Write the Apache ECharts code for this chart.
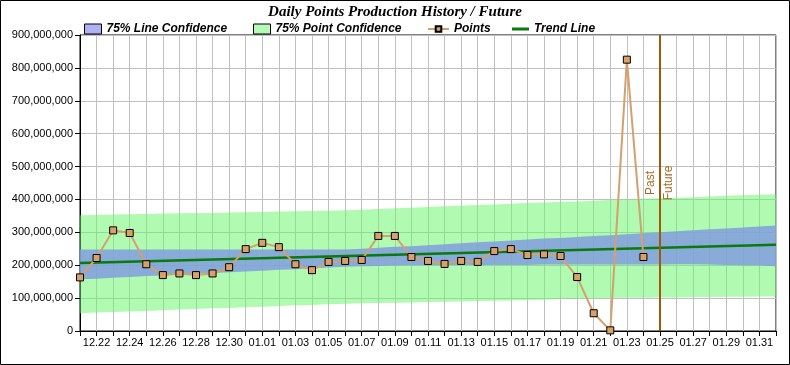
<!DOCTYPE html>
<html>
<head>
<meta charset="utf-8">
<script src="https://cdn.jsdelivr.net/npm/echarts@6/dist/echarts.min.js"></script>
<style>
html,body{margin:0;padding:0;background:#fff;}
#chart{width:790px;height:365px;}
</style>
</head>
<body>
<div id="chart"></div>
<script>
// ---- data (values in millions) ----
const categories = ['12.21','12.22','12.23','12.24','12.25','12.26','12.27','12.28','12.29','12.30','12.31',
  '01.01','01.02','01.03','01.04','01.05','01.06','01.07','01.08','01.09','01.10','01.11','01.12','01.13','01.14','01.15','01.16',
  '01.17','01.18','01.19','01.20','01.21','01.22','01.23','01.24','01.25','01.26','01.27','01.28','01.29','01.30','01.31','02.01'];
const points = [163,222,306,298,203,170,175,170,175,194,249,
  268,255,203,185,210,213,216,289,289,225,213,204,213,210,243,249,231,233,228,164,54,2,825,225];
const trendStart = 207, trendEnd = 262;
const lineConfUpper = [248,248,248,248,248,248,248,248,248,248,248,248,248,248,248,248,248,
  250,253,256,258,261,264,267,270,272,275,278,281,283,286,289,291,294,297,300,303,306,309,312,315,318,321];
const lineConfLower = [157,159,162,164,167,169,171,174,176,179,181,183,186,188,191,193,195,
  197,198,199,200,200,201,201,201,201,201,201,202,202,202,202,202,202,202,202,203,203,202,201,200,199,197];
const pointConfUpper = [352,353,354,355,356,357,358,359,359,360,361,362,363,364,365,366,367,
  369,371,373,375,377,379,381,383,385,387,389,391,393,394,396,398,400,402,404,405,407,409,411,413,414,416];
const pointConfLower = [54,56,58,59,61,63,65,67,69,70,72,74,76,78,79,81,83,
  84,85,86,87,88,89,90,91,92,93,94,95,97,98,99,100,101,101,102,102,103,103,104,104,105,105];
const yTicks = {min:0, max:900, interval:100};
const boundaryLabel = '01.25';

const M = 1e6;
const toM = a => a.map(v => v * M);
const diff = (u, l) => u.map((v, i) => (v - l[i]) * M);

const chart = echarts.init(document.getElementById('chart'), null, {renderer:'canvas'});
const legendText = {fontFamily:'Liberation Sans', fontStyle:'italic', fontWeight:'bold', fontSize:12, color:'#000'};
const invisibleLine = {opacity:0};

chart.setOption({
  animation:false,
  backgroundColor:'#fff',
  title:{text:'Daily Points Production History / Future', left:'center', top:0,
    textStyle:{fontFamily:'Liberation Serif', fontStyle:'italic', fontWeight:'bold', fontSize:15, color:'#000'}},
  legend:[
    {left:84, top:23, padding:0, itemWidth:17, itemHeight:10, textStyle:legendText,
     data:[{name:'75% Line Confidence', icon:'rect', itemStyle:{color:'#b0b0f4', borderColor:'#000', borderWidth:1}}]},
    {left:253, top:23, padding:0, itemWidth:17, itemHeight:10, textStyle:legendText,
     data:[{name:'75% Point Confidence', icon:'rect', itemStyle:{color:'#b4fab4', borderColor:'#000', borderWidth:1}}]},
    {left:427, top:23, padding:0, itemWidth:21, itemHeight:7, textStyle:legendText, data:['Points']},
    {left:512, top:23, padding:0, itemWidth:17, itemHeight:3, textStyle:legendText,
     data:[{name:'Trend Line', icon:'rect', itemStyle:{color:'#0a7a0a'}}]}
  ],
  grid:{left:80, right:14, top:35, bottom:34, show:true, borderColor:'#000', borderWidth:1, backgroundColor:'transparent'},
  xAxis:{type:'category', data:categories, boundaryGap:false,
    axisLine:{lineStyle:{color:'#000', width:1}},
    axisTick:{interval:0, length:5, lineStyle:{color:'#000'}},
    axisLabel:{interval:(i)=> i % 2 === 1, margin:6, fontFamily:'Liberation Sans', fontSize:11, color:'#000'},
    splitLine:{show:true, interval:0, lineStyle:{color:'#c0c0c0', width:1}}},
  yAxis:{type:'value', min:yTicks.min*M, max:yTicks.max*M, interval:yTicks.interval*M,
    axisLine:{show:true, lineStyle:{color:'#000', width:1}},
    axisTick:{show:true, length:5, lineStyle:{color:'#000'}},
    axisLabel:{margin:7, fontFamily:'Liberation Sans', fontSize:11, color:'#000',
      formatter:v => Math.round(v).toLocaleString('en-US')},
    splitLine:{show:true, lineStyle:{color:'#c0c0c0', width:1}}},
  graphic:[{type:'rect', shape:{x:0.5, y:0.5, width:789, height:364}, style:{fill:'none', stroke:'#000', lineWidth:1}, silent:true, z:100}],
  series:[
    {name:'pcBase', type:'line', stack:'pc', data:toM(pointConfLower), symbol:'none', lineStyle:invisibleLine, silent:true, z:1},
    {name:'75% Point Confidence', type:'line', stack:'pc', data:diff(pointConfUpper, pointConfLower), symbol:'none',
     lineStyle:invisibleLine, itemStyle:{color:'#b4fab4'}, areaStyle:{color:'rgba(100,245,100,0.5)', opacity:1}, silent:true, z:1},
    {name:'lcBase', type:'line', stack:'lc', data:toM(lineConfLower), symbol:'none', lineStyle:invisibleLine, silent:true, z:2},
    {name:'75% Line Confidence', type:'line', stack:'lc', data:diff(lineConfUpper, lineConfLower), symbol:'none',
     lineStyle:invisibleLine, itemStyle:{color:'#b0b0f4'}, areaStyle:{color:'rgba(131,156,223,0.85)', opacity:1}, silent:true, z:2},
    {name:'Trend Line', type:'line', data:[[categories[0], trendStart*M],[categories[categories.length-1], trendEnd*M]],
     symbol:'none', lineStyle:{color:'#0a7a0a', width:2.5}, itemStyle:{color:'#0a7a0a'}, z:3,
     markLine:{symbol:'none', silent:true, lineStyle:{color:'#9e5a0a', width:2, type:'solid'},
       label:{color:'#a86a24', fontFamily:'Liberation Sans', fontSize:12, distance:3},
       data:[{xAxis:boundaryLabel, label:{formatter:'Past', position:'insideMiddleTop'}},
             {xAxis:boundaryLabel, label:{formatter:'Future', position:'insideMiddleBottom'}}]}},
    {name:'Points', type:'line', data:toM(points), symbol:'rect', symbolSize:7,
     lineStyle:{color:'#d4a06e', width:2}, itemStyle:{color:'#d9a06a', borderColor:'#000', borderWidth:1}, z:4}
  ]
});
</script>
</body>
</html>
